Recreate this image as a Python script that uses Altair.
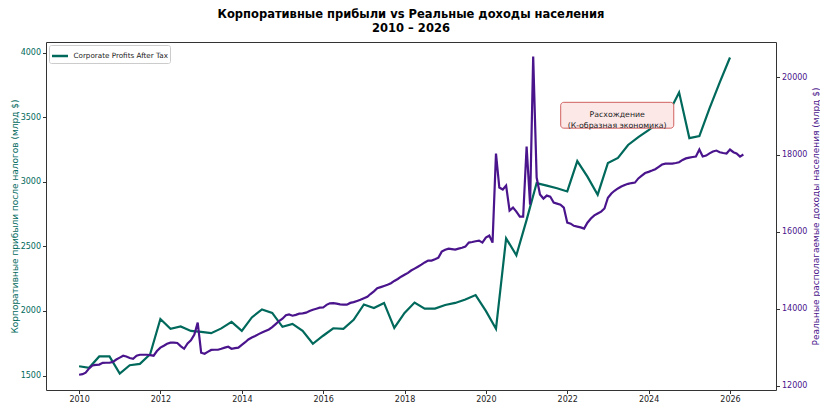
import altair as alt
import pandas as pd

GREEN = "#00695C"
PURPLE = "#4A148C"
FONT = "DejaVu Sans"

title_lines = ["Корпоративные прибыли vs Реальные доходы населения", "2010 – 2026"]
left_title = "Корпоративные прибыли после налогов (млрд $)"
right_title = "Реальные располагаемые доходы населения (млрд $)"
series_name = "Corporate Profits After Tax"
note_lines = ["Расхождение", "(К-образная экономика)"]

# quarterly corporate profits after tax, from 2010 Q1
profits = [
    1572, 1560, 1648, 1648,
    1515, 1580, 1590, 1665,
    1938, 1862, 1880, 1845,
    1838, 1828, 1865, 1915,
    1846, 1950, 2012, 1985,
    1877, 1900, 1846, 1746,
    1808, 1866, 1862, 1931,
    2050, 2023, 2062, 1869,
    1985, 2065, 2018, 2018,
    2046, 2062, 2088, 2123,
    2000, 1862, 2562, 2431,
    2705, 2990, 2970, 2950,
    2925, 3160, 3040, 2900,
    3146, 3185, 3285, 3346,
    3400, 3460, 3535, 3692,
    3338, 3354, 3569, 3769,
    3962,
]

# monthly real disposable income, from 2010-01
income = [
    12286, 12300, 12340, 12450, 12525, 12540, 12550, 12595, 12597, 12597, 12620, 12680,
    12730, 12780, 12760, 12720, 12700, 12780, 12805, 12805, 12805, 12795, 12780, 12900,
    12990, 13040, 13090, 13117, 13117, 13110, 13030, 12960, 13100, 13180, 13330, 13640,
    12857, 12831, 12880, 12930, 12935, 12935, 12960, 12990, 13013, 12960, 12975, 12990,
    13060, 13130, 13200, 13250, 13290, 13340, 13380, 13420, 13460, 13520, 13600, 13680,
    13740, 13830, 13850, 13818, 13840, 13870, 13880, 13896, 13940, 13974, 14000, 14026,
    14030, 14100, 14140, 14145, 14130, 14110, 14104, 14104, 14150, 14170, 14200, 14230,
    14270, 14310, 14380, 14450, 14530, 14560, 14590, 14620, 14660, 14720, 14770, 14830,
    14880, 14930, 14990, 15040, 15090, 15143, 15200, 15247, 15247, 15280, 15325, 15480,
    15530, 15558, 15545, 15532, 15558, 15580, 15610, 15714, 15730, 15750, 15766, 15714,
    15844, 15896, 15714, 18026, 17143, 17091, 17195, 16545, 16623, 16519, 16390, 16390,
    18208, 16701, 20545, 17402, 16961, 16857, 16935, 16909, 16753, 16727, 16700, 16623,
    16233, 16207, 16150, 16130, 16110, 16078, 16230, 16340, 16420, 16470, 16519, 16600,
    16880, 16990, 17060, 17120, 17170, 17210, 17240, 17260, 17272, 17380, 17450, 17520,
    17550, 17584, 17620, 17680, 17740, 17765, 17765, 17765, 17780, 17800, 17860, 17900,
    17921, 17935, 17947, 18129, 17950, 17973, 18030, 18077, 18103, 18060, 18040, 18026,
    18129, 18060, 18030, 17947, 18000,
]

left_ticks = [1500, 2000, 2500, 3000, 3500, 4000]
right_ticks = [12000, 14000, 16000, 18000, 20000]
year_ticks = list(range(2010, 2027, 2))

# annotation anchor (data coordinates)
note_x, note_y = "2023-03-25", 3515
box_x, box_x2 = "2021-11-03", "2024-08-14"
box_y, box_y2 = 3615, 3415

df_p = pd.DataFrame({
    "date": pd.date_range("2010-01-01", periods=len(profits), freq="QS"),
    "value": profits,
    "series": series_name,
})
df_i = pd.DataFrame({
    "date": pd.date_range("2010-01-01", periods=len(income), freq="MS"),
    "value": income,
})
df_box = pd.DataFrame({"date": [pd.Timestamp(box_x)], "date2": [pd.Timestamp(box_x2)],
                       "value": [box_y], "value2": [box_y2]})
df_note = pd.DataFrame({"date": [pd.Timestamp(note_x)], "value": [note_y]})

x_scale = alt.Scale(domain=[alt.DateTime(year=2009, month=3, date=10),
                            alt.DateTime(year=2027, month=2, date=18)])
x_enc = alt.X(
    "date:T", scale=x_scale, title=None,
    axis=alt.Axis(values=[alt.DateTime(year=y, month=1, date=1) for y in year_ticks],
                  format="%Y", labelColor="#222", grid=False),
)

y_left = alt.Y(
    "value:Q",
    scale=alt.Scale(domain=[1388, 4082], nice=False, zero=False),
    axis=alt.Axis(orient="left", values=left_ticks, format="d", title=left_title,
                  titleColor=GREEN, labelColor=GREEN, grid=False,
                  titleX=-32, titleY=174, titleAngle=270, titleBaseline="middle",
                  titleAlign="center"),
)
y_right = alt.Y(
    "value:Q",
    scale=alt.Scale(domain=[11890, 20920], nice=False, zero=False),
    axis=alt.Axis(orient="right", values=right_ticks, format="d", title=right_title,
                  titleColor=PURPLE, labelColor=PURPLE, grid=False,
                  titleX=39, titleY=174, titleAngle=270, titleBaseline="middle",
                  titleAlign="center"),
)

green = alt.Chart(df_p).mark_line(strokeWidth=2.2).encode(
    x=x_enc,
    y=y_left,
    color=alt.Color(
        "series:N",
        scale=alt.Scale(domain=[series_name], range=[GREEN]),
        legend=alt.Legend(
            orient="top-left", title=None, offset=3, padding=1.5,
            symbolType="stroke", symbolSize=256, symbolStrokeWidth=2.5,
            labelFontSize=7.2, labelFont=FONT, labelColor="#222", labelOffset=4,
            fillColor="white", strokeColor="#cccccc", cornerRadius=2,
        ),
    ),
)

box = alt.Chart(df_box).mark_rect(
    fill="#fde8e8", stroke="#d06060", strokeWidth=1, cornerRadius=3
).encode(x="date:T", x2="date2:T", y=y_left, y2="value2:Q")

note = alt.Chart(df_note).mark_text(
    text=note_lines, font=FONT, fontSize=7.8, color="#222", align="center",
    baseline="middle", lineHeight=11,
).encode(x="date:T", y=y_left)

left_layer = alt.layer(green, box, note)

purple = alt.Chart(df_i).mark_line(color=PURPLE, strokeWidth=2.2).encode(
    x=x_enc, y=y_right
)

chart = (
    alt.layer(left_layer, purple)
    .resolve_scale(y="independent")
    .properties(
        width=730, height=348,
        autosize=alt.AutoSizeParams(type="none"),
        padding={"left": 38, "top": 34, "right": 44, "bottom": 13},
        title=alt.TitleParams(
            text=title_lines, font=FONT, fontSize=11.5, fontWeight="bold",
            color="black", anchor="middle", frame="group", offset=8, lineHeight=14,
        ),
    )
    .configure_view(stroke="#333333", strokeWidth=1)
    .configure_axis(
        domain=False, tickColor="#333333", tickSize=3.5, labelPadding=2,
        labelFont=FONT, labelFontSize=8, titleFont=FONT, titleFontSize=9,
        titleFontWeight="normal",
    )
)

chart.save("out.html", embed_options={"renderer": "svg", "actions": False})
